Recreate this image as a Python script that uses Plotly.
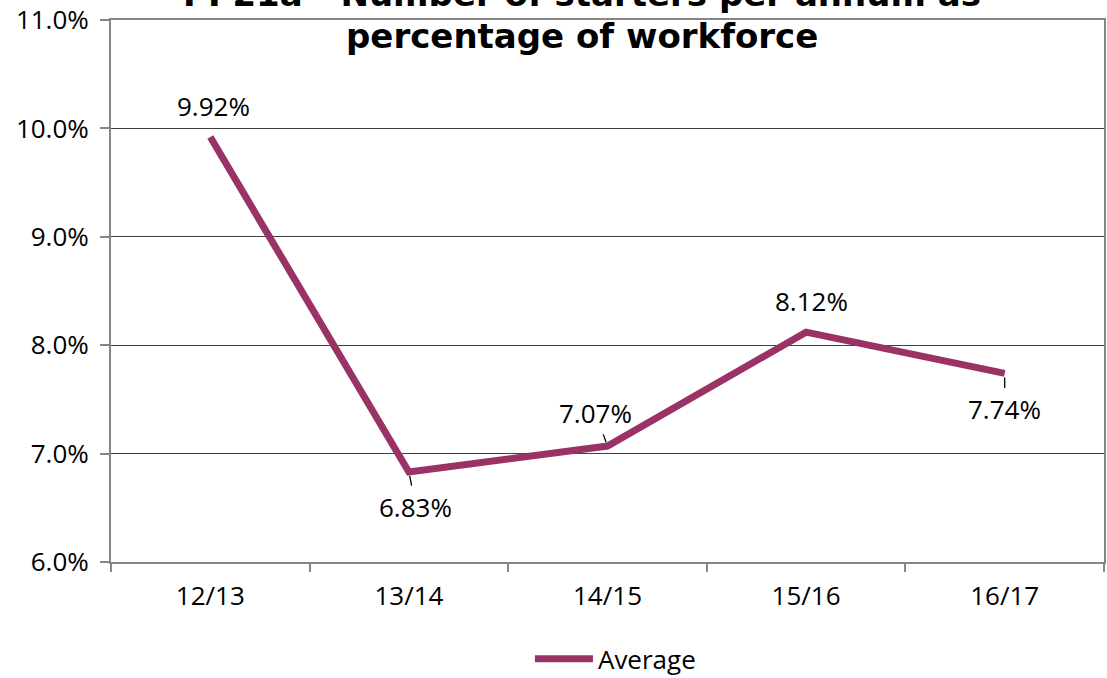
import plotly.graph_objects as go

categories = ["12/13", "13/14", "14/15", "15/16", "16/17"]
average = [9.92, 6.83, 7.07, 8.12, 7.74]
label_text = ["9.92%", "6.83%", "7.07%", "8.12%", "7.74%"]
y_ticks = [6.0, 7.0, 8.0, 9.0, 10.0, 11.0]
y_tick_labels = ["6.0%", "7.0%", "8.0%", "9.0%", "10.0%", "11.0%"]
title_lines = ["PI 21a - Number of starters per annum as", "percentage of workforce"]

LINE_COLOR = "#993366"
FONT = "Open Sans"
FS = 26

fig = go.Figure()
fig.add_trace(go.Scatter(
    x=categories, y=average, mode="lines", name="Average",
    line=dict(color=LINE_COLOR, width=7),
))

# label offsets (pixels) and whether a leader line is drawn
offsets = [(3, -31, False), (7, 35, True), (-12, -33, True), (5, -31, False), (0, 36, True)]
for c, v, t, (ax, ay, lead) in zip(categories, average, label_text, offsets):
    fig.add_annotation(
        x=c, y=v, text=t, showarrow=True, ax=ax, ay=ay,
        arrowhead=0, arrowwidth=1.3,
        arrowcolor="black" if lead else "rgba(0,0,0,0)",
        standoff=4, startstandoff=2,
        font=dict(family=FONT, size=FS, color="black"),
    )

# title, two lines placed separately (first line partly cut at top as in source)
for line, ypos in zip(title_lines, [1.048, 0.971]):
    fig.add_annotation(
        xref="paper", yref="paper", x=0.4748, y=ypos, xanchor="center", yanchor="middle",
        text=line, showarrow=False,
        font=dict(family="DejaVu Sans", size=34, color="black", weight="bold"),
    )

fig.update_layout(
    width=1107, height=678,
    paper_bgcolor="white", plot_bgcolor="white",
    margin=dict(l=111, r=3, t=20, b=116, autoexpand=False),
    showlegend=True,
    legend=dict(
        orientation="h", x=0.508, xanchor="center", y=-0.222, yanchor="bottom",
        itemwidth=58,
        font=dict(family=FONT, size=FS, color="black"),
    ),
    font=dict(family=FONT, size=FS, color="black"),
)

fig.update_xaxes(
    type="category", range=[-0.5, 4.5], automargin=False,
    showline=True, linecolor="#868686", linewidth=2, mirror=True,
    ticks="outside", tickson="boundaries", ticklen=8, tickcolor="#868686", tickwidth=1.5,
    ticklabelstandoff=10,
    showgrid=False, tickfont=dict(family=FONT, size=FS, color="black"),
)
fig.update_yaxes(
    range=[6.0, 11.0], tickvals=y_ticks, ticktext=y_tick_labels, automargin=False,
    showline=True, linecolor="#868686", linewidth=2, mirror=True,
    ticks="outside", ticklen=9, tickcolor="#868686", tickwidth=1.5,
    ticklabelstandoff=6,
    showgrid=True, gridcolor="#404040", gridwidth=1,
    tickfont=dict(family=FONT, size=FS, color="black"),
    zeroline=False,
)

fig.write_html("out.html", config={"displayModeBar": False},
               post_script="document.body.style.margin='0';")
